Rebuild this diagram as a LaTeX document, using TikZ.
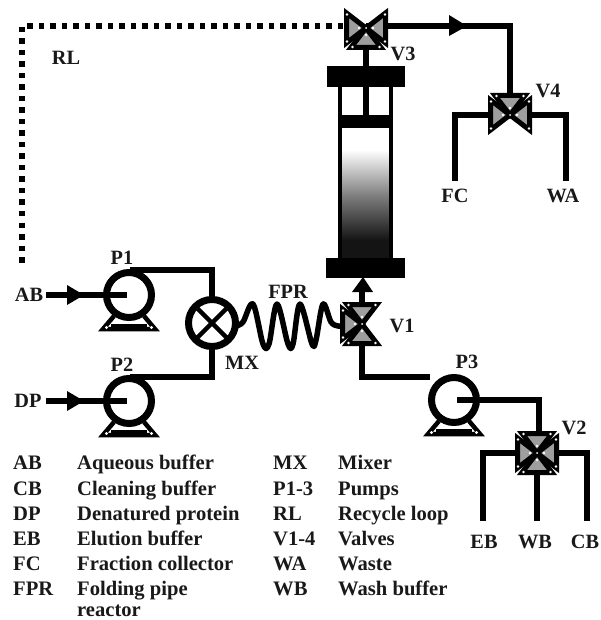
\documentclass[tikz,border=0pt]{standalone}
\usepackage{fontspec}
\setmainfont{Liberation Serif}
\usetikzlibrary{calc}
\definecolor{vgray}{gray}{0.62}
\tikzset{
  y=-1pt,x=1pt,
  pipe/.style={line width=5.5pt,line join=miter},
  dotsline/.style={line width=5.5pt,dash pattern=on 5.5pt off 6pt},
  lab/.style={font=\bfseries\fontsize{20.3}{20.3}\selectfont,text=black!90,inner sep=0pt},
  lkey/.style={font=\bfseries\fontsize{20.6}{20.6}\selectfont,text=black!90,inner sep=0pt,anchor=base west},
  pics/valve/.style={code={
    \foreach \a in {#1}{
      \begin{scope}[rotate=\a]
      \fill[vgray,draw=black,line width=5pt,line join=miter,miter limit=3] (0,0) -- (-19.5,-15) -- (-19.5,15) -- cycle;
      \fill[white] (-19,-13.5) circle (1.3) (-19,13.5) circle (1.3) (-7,0) circle (1.3);
      \end{scope}
    }
    \fill[black] (0,0) circle (3.2);
    \fill[white] (0,0) circle (1);
  }},
  pics/pump/.style={code={
    \draw[line width=4.5pt] (-15,21) -- (-26,34) -- (26,34) -- (15,21);
    \draw[line width=3pt] (-18,30) -- (18,30);
    \fill[white] (-22.5,32.5) circle (1.6) (22.5,32.5) circle (1.6);
    \draw[line width=7pt,fill=white] (0,0) circle (22.5);
  }}
}
\begin{document}
\begin{tikzpicture}
\useasboundingbox (0,0) rectangle (600,620);
\fill[white] (0,0) rectangle (600,620);

\coordinate (v3) at (366,28);
\coordinate (v4) at (510,115);
\coordinate (v1) at (362,324);
\coordinate (v2) at (537,453);
\coordinate (p1) at (129,295);
\coordinate (p2) at (129,401);
\coordinate (p3) at (454,400);
\coordinate (mx) at (212,323);
\coordinate (rlend) at (22,268);
\coordinate (fcend) at (455,181);
\coordinate (waend) at (566,181);
\coordinate (ebend) at (483,521);
\coordinate (wbend) at (537,521);
\coordinate (cbend) at (587,521);
\coordinate (abin) at (46,295);
\coordinate (dpin) at (46,401);

% recycle loop
\draw[dotsline] (v3) ++(-23,-2) -- (22,26) -- (rlend);

% column
\shade[top color=white,bottom color=black!92,middle color=black!50] (340,150) rectangle (391,240);
\fill[black!92] (340,239.5) rectangle (391,260);
\draw[line width=3.5pt] (340,80) -- (340,262) (391,80) -- (391,262);
\fill[black] (327,66) rectangle (405,87);
\fill[black] (340,115) rectangle (391,128);
\fill[black] (326,258) rectangle (405,278);
\draw[line width=6pt] (v3) -- (366,116);

% V3 -> V4
\draw[pipe] (v3) ++(0,-2) -- (510,26) -- (v4);
\fill[black] (449,15) -- (449,36) -- (467,26) -- cycle;
\draw[pipe] (v4) -- (fcend |- v4) -- (fcend);
\draw[pipe] (v4) -- (waend |- v4) -- (waend);

% pump and mixer pipes
\draw[pipe] (130,270) -- (212,270) -- (mx);
\draw[pipe] (130,377) -- (212,377) -- (mx);
\pic at (p1) {pump};
\pic at (p2) {pump};
\draw[pipe] (abin) -- (127,295);
\draw[pipe] (dpin) -- (127,401);
\fill[black] (67,285) -- (67,305) -- (84,295) -- cycle;
\fill[black] (67,391) -- (67,411) -- (84,401) -- cycle;

% mixer
\draw[line width=7pt,fill=white] (mx) circle (23.5);
\draw[line width=4.5pt] ($(mx)+(-17,-17)$) -- ($(mx)+(17,17)$) ($(mx)+(-17,17)$) -- ($(mx)+(17,-17)$);

% coil
\draw[line width=5.5pt,line join=round] plot[smooth,tension=0.55] coordinates {
 (236,326) (243,322) (253,304) (263,344) (269,344) (277,304) (288,344) (293,344) (300,304) (312,344) (316,340) (323,304) (331,322) (338,326) (345,326)};

% V1 connections
\draw[pipe] (v1) -- (362,377) -- (430,377);
\draw[pipe] (v1) -- (362,282);
\fill[black] (352,292) -- (373,292) -- (363,277) -- cycle;
\pic at (v1) {valve={0,90,-90}};

% P3
\draw[pipe] (480,400) -- (539,400) -- (539,440);
\pic at (p3) {pump};
\draw[pipe] (457,400) -- (480,400);

% V2
\draw[pipe] (v2) -- (ebend |- v2) -- (ebend);
\draw[pipe] (v2) -- (wbend);
\draw[pipe] (v2) -- (cbend |- v2) -- (cbend);
\pic at (v2) {valve={0,90,180,270}};

% other valves
\pic at (v3) {valve={0,180,90}};
\pic at (v4) {valve={0,180,-90}};

% labels
\node[lab] (lRL) at (66,58) {RL};
\node[lab] (lV3) at (403,54) {V3};
\node[lab] (lV4) at (548,91) {V4};
\node[lab] (lFC) at (455,196) {FC};
\node[lab] (lWA) at (563,196) {WA};
\node[lab] (lP1) at (122,258) {P1};
\node[lab] (lP2) at (122,365) {P2};
\node[lab] (lAB) at (29,295) {AB};
\node[lab] (lDP) at (28,401) {DP};
\node[lab] (lMX) at (242,363) {MX};
\node[lab] (lFPR) at (288,292) {FPR};
\node[lab] (lV1) at (402,326) {V1};
\node[lab] (lP3) at (467,362) {P3};
\node[lab] (lV2) at (574,428) {V2};
\node[lab] (lEB) at (484,542) {EB};
\node[lab] (lWB) at (535,542) {WB};
\node[lab] (lCB) at (585,542) {CB};

% key
\foreach \y/\a/\b/\c/\d in {
 469.5/AB/Aqueous buffer/MX/Mixer,
 495/CB/Cleaning buffer/P1-3/Pumps,
 520/DP/Denatured protein/RL/Recycle loop,
 545/EB/Elution buffer/V1-4/Valves,
 570/FC/Fraction collector/WA/Waste,
 595/FPR/Folding pipe/WB/Wash buffer}{
  \node[lkey] at (13,\y) {\a};
  \node[lkey] at (77,\y) {\b};
  \node[lkey] at (273,\y) {\c};
  \node[lkey] at (338,\y) {\d};
}
\node[lkey] at (77,616) {reactor};
\end{tikzpicture}
\end{document}
